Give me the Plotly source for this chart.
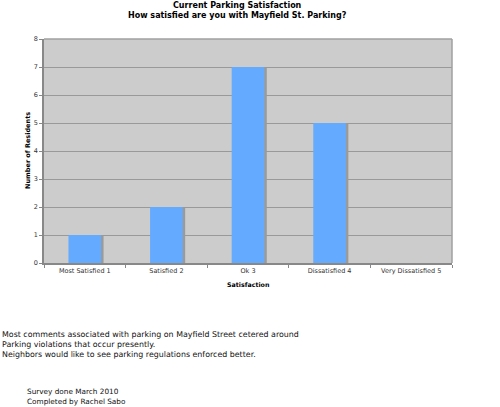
import plotly.graph_objects as go

categories = ["Most Satisfied 1", "Satisfied 2", "Ok 3", "Dissatisfied 4", "Very Dissatisfied 5"]
residents = [1, 2, 7, 5, 0]
y_ticks = [0, 1, 2, 3, 4, 5, 6, 7, 8]
title_lines = ["Current Parking Satisfaction", "How satisfied are you with Mayfield St. Parking?"]
comment_lines = [
    "Most comments associated with parking on Mayfield Street cetered around",
    "Parking violations that occur presently.",
    "Neighbors would like to see parking regulations enforced better.",
]
credit_lines = ["Survey done March 2010", "Completed by Rachel Sabo"]

FONT = "DejaVu Sans"
BAR_W = 0.4
L, R, T, B = 44, 452, 39, 263
PW, PH = R - L, B - T


def px_x(x):
    return (x - L) / PW


def px_y(y):
    return (B - y) / PH


fig = go.Figure()
# shadow
fig.add_trace(go.Bar(x=categories, y=residents, width=BAR_W, offset=-BAR_W / 2 + 0.03,
                     marker=dict(color="#9a9a9a", line=dict(width=0)), hoverinfo="skip",
                     showlegend=False))
fig.add_trace(go.Bar(x=categories, y=residents, width=BAR_W, offset=-BAR_W / 2,
                     marker=dict(color="#64aaff", line=dict(width=0)), showlegend=False))

fig.update_layout(
    width=500, height=407,
    margin=dict(l=L, r=500 - R, t=T, b=407 - B),
    paper_bgcolor="white", plot_bgcolor="#cccccc",
    barmode="overlay",
    font=dict(family=FONT, color="#222222", size=7),
    xaxis=dict(type="category", showgrid=False, linecolor="#888888", linewidth=1.5,
               mirror=False, ticks="outside", ticklen=3, tickcolor="#888888",
               tickson="boundaries", tickfont=dict(size=6.5, color="#333333"),
               range=[-0.5, 4.5]),
    yaxis=dict(range=[0, 8], tickvals=y_ticks, showgrid=True, gridcolor="#999999",
               gridwidth=1, linecolor="#888888", linewidth=1.5, ticks="outside", ticklen=3,
               tickcolor="#888888", tickfont=dict(size=6.5, color="#333333"), zeroline=False),
    shapes=[
        dict(type="line", xref="paper", yref="paper", x0=0, x1=1, y0=1, y1=1,
             line=dict(color="#a0a0a0", width=1.5)),
        dict(type="line", xref="paper", yref="paper", x0=1, x1=1, y0=0, y1=1,
             line=dict(color="#a0a0a0", width=1.5)),
    ],
)

for i, t in enumerate(title_lines):
    fig.add_annotation(text="<b>" + t + "</b>", xref="paper", yref="paper", x=px_x(237),
                       xanchor="center", y=px_y(5 + i * 10.5), yanchor="middle",
                       showarrow=False, font=dict(family=FONT, size=8, color="#000000"))

fig.add_annotation(text="<b>Satisfaction</b>", xref="paper", yref="paper", x=px_x(248),
                   xanchor="center", y=px_y(284), yanchor="middle", showarrow=False,
                   font=dict(family=FONT, size=6.3, color="#000000"))
fig.add_annotation(text="<b>Number of Residents</b>", xref="paper", yref="paper", x=px_x(28),
                   xanchor="center", y=px_y(151), yanchor="middle", showarrow=False,
                   textangle=-90, font=dict(family=FONT, size=6.5, color="#000000"))

for i, t in enumerate(comment_lines):
    fig.add_annotation(text=t, xref="paper", yref="paper", x=px_x(0), xanchor="left",
                       y=px_y(334 + i * 10), yanchor="middle", showarrow=False,
                       font=dict(family=FONT, size=7.9, color="#111111"))
for i, t in enumerate(credit_lines):
    fig.add_annotation(text=t, xref="paper", yref="paper", x=px_x(25), xanchor="left",
                       y=px_y(391 + i * 10), yanchor="middle", showarrow=False,
                       font=dict(family=FONT, size=7.3, color="#111111"))

fig.write_html("out.html", config={"displayModeBar": False},
               post_script="document.body.style.margin='0';")
